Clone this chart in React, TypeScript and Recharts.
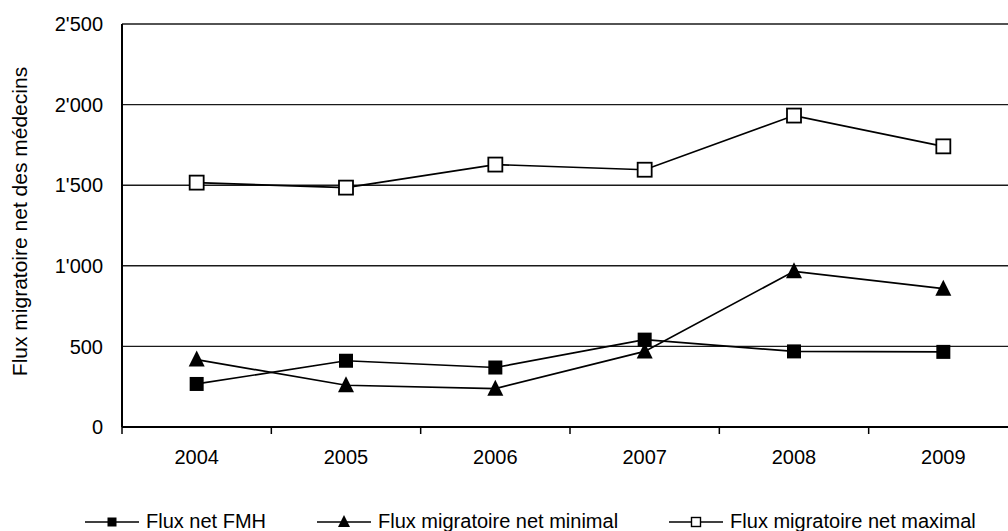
import React from 'react';
import { LineChart, Line, XAxis, YAxis, CartesianGrid, Legend } from 'recharts';

const years = ['2004', '2005', '2006', '2007', '2008', '2009'];
const fluxFMH = [267, 411, 369, 542, 469, 466];
const fluxMin = [418, 259, 238, 469, 966, 858];
const fluxMax = [1516, 1485, 1628, 1596, 1932, 1741];
const yTicks = [0, 500, 1000, 1500, 2000, 2500];
const seriesNames = ['Flux net FMH', 'Flux migratoire net minimal', 'Flux migratoire net maximal'];
const yLabel = 'Flux migratoire net des médecins';

const data = years.map((y, i) => ({ year: y, fmh: fluxFMH[i], min: fluxMin[i], max: fluxMax[i] }));

const FONT = '"Liberation Sans", Arial, sans-serif';
const X_TICK_MARGIN = 17;

const fmt = (v: number) =>
  v >= 1000 ? `${Math.floor(v / 1000)}'${String(v % 1000).padStart(3, '0')}` : String(v);

const SquareDot = (props: any) => {
  const { cx, cy } = props;
  if (cx == null || cy == null) return null;
  return <rect x={cx - 7} y={cy - 7} width={14} height={14} fill="#000" />;
};
const TriDot = (props: any) => {
  const { cx, cy } = props;
  if (cx == null || cy == null) return null;
  return <polygon points={`${cx},${cy - 9} ${cx - 8},${cy + 7} ${cx + 8},${cy + 7}`} fill="#000" />;
};
const OpenSquareDot = (props: any) => {
  const { cx, cy } = props;
  if (cx == null || cy == null) return null;
  return <rect x={cx - 7} y={cy - 7} width={14} height={14} fill="#fff" stroke="#000" strokeWidth={1.8} />;
};

const XTick = (props: any) => {
  const { x, y, payload } = props;
  const half = payload && typeof payload.offset === 'number' ? payload.offset : 0;
  const axisY = y - 6 - X_TICK_MARGIN;
  return (
    <g>
      <line x1={x - half} x2={x - half} y1={axisY} y2={axisY + 7} stroke="#000" strokeWidth={1.5} />
      <text x={x} y={y} dy="0.71em" textAnchor="middle" fontSize={20} fill="#000" fontFamily={FONT}>
        {payload.value}
      </text>
    </g>
  );
};

const LegendIcon = ({ kind }: { kind: number }) => (
  <svg width={54} height={20} style={{ display: 'block' }}>
    <line x1={0} x2={54} y1={11} y2={11} stroke="#000" strokeWidth={1.7} />
    {kind === 0 && <rect x={22.5} y={6.5} width={9} height={9} fill="#000" />}
    {kind === 1 && <polygon points="27,4 21,16 33,16" fill="#000" />}
    {kind === 2 && <rect x={22.5} y={6.5} width={9} height={9} fill="#fff" stroke="#000" strokeWidth={1.4} />}
  </svg>
);

const LegendContent = () => (
  <div style={{ display: 'flex', alignItems: 'center', paddingLeft: 85, fontFamily: FONT, fontSize: 20, lineHeight: '24px', color: '#000' }}>
    {seriesNames.map((n, i) => (
      <div key={n} style={{ display: 'flex', alignItems: 'center', marginRight: 51 }}>
        <LegendIcon kind={i} />
        <span style={{ marginLeft: 7, whiteSpace: 'nowrap' }}>{n}</span>
      </div>
    ))}
  </div>
);

export default function App() {
  return (
    <div style={{ position: 'absolute', left: 0, top: 0, width: 1008, height: 531, overflow: 'hidden', background: '#fff' }}>
      <LineChart width={1030} height={531} data={data} margin={{ top: 24, right: 12, bottom: 74, left: 0 }}>
        <CartesianGrid vertical={false} stroke="#1a1a1a" strokeWidth={1.4} />
        <XAxis
          dataKey="year"
          scale="band"
          height={30}
          tickLine={false}
          tickSize={6}
          tickMargin={X_TICK_MARGIN}
          axisLine={{ stroke: '#000', strokeWidth: 2 }}
          tick={<XTick />}
          interval={0}
        />
        <YAxis
          width={122}
          domain={[0, 2500]}
          ticks={yTicks}
          tickFormatter={fmt}
          tickLine={false}
          tickSize={6}
          tickMargin={13}
          axisLine={{ stroke: '#000', strokeWidth: 2 }}
          tick={{ fontSize: 20, fill: '#000', fontFamily: FONT }}
          label={{ value: yLabel, angle: -90, position: 'center', dx: -41, dy: -4, fontSize: 21, fill: '#000', fontFamily: FONT }}
        />
        <Legend
          layout="horizontal"
          verticalAlign="middle"
          align="center"
          content={<LegendContent />}
          wrapperStyle={{ top: 509, left: 0, width: 1008 }}
        />
        <Line dataKey="fmh" name={seriesNames[0]} stroke="#000" strokeWidth={1.7} dot={<SquareDot />} isAnimationActive={false} />
        <Line dataKey="min" name={seriesNames[1]} stroke="#000" strokeWidth={1.7} dot={<TriDot />} isAnimationActive={false} />
        <Line dataKey="max" name={seriesNames[2]} stroke="#000" strokeWidth={1.7} dot={<OpenSquareDot />} isAnimationActive={false} />
      </LineChart>
    </div>
  );
}
